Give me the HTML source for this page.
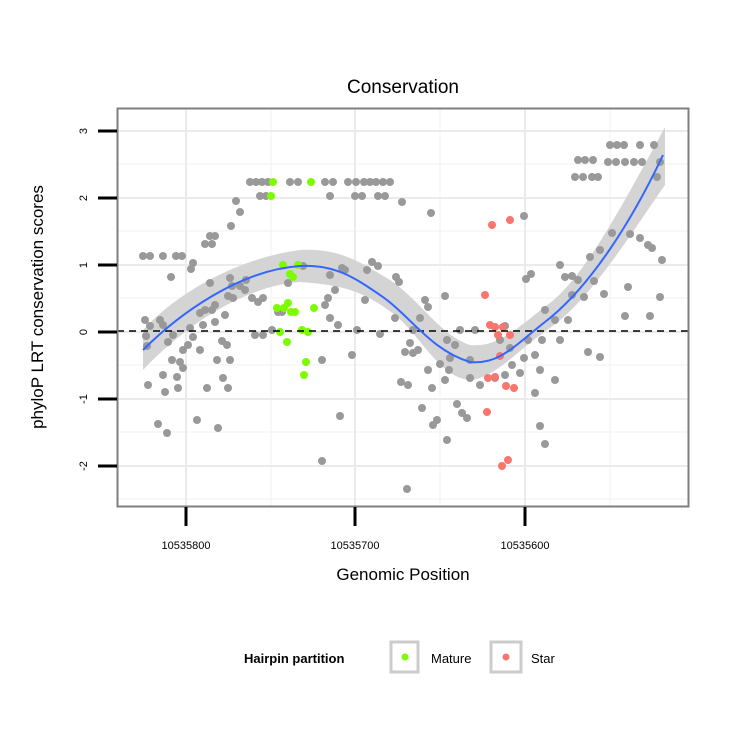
<!DOCTYPE html><html><head><style>body{margin:0;background:#fff}svg text{font-family:"Liberation Sans",sans-serif}</style></head><body>
<svg width="750" height="750" xmlns="http://www.w3.org/2000/svg">
<rect width="750" height="750" fill="#fff"/>
<g stroke="#f3f3f3" stroke-width="1.2">
<line x1="117" x2="689" y1="164" y2="164"/><line x1="117" x2="689" y1="231" y2="231"/><line x1="117" x2="689" y1="298" y2="298"/><line x1="117" x2="689" y1="365" y2="365"/><line x1="117" x2="689" y1="432" y2="432"/><line x1="117" x2="689" y1="499" y2="499"/>
<line x1="271" x2="271" y1="108" y2="506"/><line x1="440" x2="440" y1="108" y2="506"/><line x1="610" x2="610" y1="108" y2="506"/>
</g>
<g stroke="#ebebeb" stroke-width="2">
<line x1="117" x2="689" y1="131" y2="131"/><line x1="117" x2="689" y1="198" y2="198"/><line x1="117" x2="689" y1="265" y2="265"/><line x1="117" x2="689" y1="332" y2="332"/><line x1="117" x2="689" y1="399" y2="399"/><line x1="117" x2="689" y1="466" y2="466"/>
<line x1="186" x2="186" y1="108" y2="506"/><line x1="355" x2="355" y1="108" y2="506"/><line x1="525" x2="525" y1="108" y2="506"/>
</g>
<path d="M143,330 C180,290 240,258 300,250 C340,248 360,262 390,280 C420,300 440,335 470,345 C500,348 520,325 550,303 C585,275 620,210 665,127 L665,185 C630,235 590,300 550,328 C515,352 495,378 470,380 C440,378 420,335 395,315 C365,292 345,285 300,282 C250,285 190,320 143,370 Z" fill="#d4d4d4"/>
<g fill="#999">
<script>
</script>
</g>
<g id="pts" fill="#999"></g>
<g fill="#999">
<!-- top rows -->
<circle cx="250" cy="182" r="4"/><circle cx="256" cy="182" r="4"/><circle cx="262" cy="182" r="4"/><circle cx="268" cy="182" r="4"/><circle cx="290" cy="182" r="4"/><circle cx="298" cy="182" r="4"/><circle cx="325" cy="182" r="4"/><circle cx="333" cy="182" r="4"/><circle cx="348" cy="182" r="4"/><circle cx="356" cy="182" r="4"/><circle cx="364" cy="182" r="4"/><circle cx="370" cy="182" r="4"/><circle cx="376" cy="182" r="4"/><circle cx="383" cy="182" r="4"/><circle cx="390" cy="182" r="4"/>
<circle cx="260" cy="196" r="4"/><circle cx="266" cy="196" r="4"/><circle cx="330" cy="196" r="4"/><circle cx="355" cy="196" r="4"/><circle cx="362" cy="196" r="4"/><circle cx="378" cy="196" r="4"/><circle cx="385" cy="196" r="4"/><circle cx="402" cy="202" r="4"/><circle cx="431" cy="213" r="4"/>
<circle cx="143" cy="256" r="4"/><circle cx="150" cy="256" r="4"/><circle cx="163" cy="256" r="4"/><circle cx="176" cy="256" r="4"/><circle cx="182" cy="256" r="4"/>
<circle cx="236" cy="201" r="4"/><circle cx="240" cy="212" r="4"/><circle cx="231" cy="226" r="4"/><circle cx="210" cy="236" r="4"/><circle cx="215" cy="236" r="4"/><circle cx="205" cy="244" r="4"/><circle cx="212" cy="244" r="4"/><circle cx="193" cy="263" r="4"/><circle cx="191" cy="269" r="4"/><circle cx="171" cy="277" r="4"/>
<circle cx="610" cy="145" r="4"/><circle cx="617" cy="145" r="4"/><circle cx="624" cy="145" r="4"/><circle cx="640" cy="145" r="4"/><circle cx="654" cy="145" r="4"/><circle cx="578" cy="160" r="4"/><circle cx="585" cy="160" r="4"/><circle cx="593" cy="160" r="4"/><circle cx="608" cy="162" r="4"/><circle cx="616" cy="162" r="4"/><circle cx="625" cy="162" r="4"/><circle cx="634" cy="162" r="4"/><circle cx="642" cy="162" r="4"/><circle cx="660" cy="162" r="4"/><circle cx="575" cy="177" r="4"/><circle cx="583" cy="177" r="4"/><circle cx="592" cy="177" r="4"/><circle cx="598" cy="177" r="4"/><circle cx="657" cy="177" r="4"/>
<circle cx="524" cy="216" r="4"/><circle cx="612" cy="233" r="4"/><circle cx="630" cy="234" r="4"/><circle cx="640" cy="238" r="4"/><circle cx="648" cy="245" r="4"/><circle cx="652" cy="248" r="4"/><circle cx="662" cy="260" r="4"/><circle cx="600" cy="250" r="4"/><circle cx="590" cy="257" r="4"/><circle cx="565" cy="277" r="4"/><circle cx="572" cy="276" r="4"/><circle cx="578" cy="280" r="4"/><circle cx="560" cy="265" r="4"/><circle cx="531" cy="274" r="4"/><circle cx="526" cy="279" r="4"/><circle cx="584" cy="297" r="4"/><circle cx="594" cy="281" r="4"/><circle cx="604" cy="294" r="4"/><circle cx="628" cy="287" r="4"/><circle cx="660" cy="297" r="4"/><circle cx="625" cy="316" r="4"/><circle cx="650" cy="316" r="4"/><circle cx="568" cy="320" r="4"/><circle cx="555" cy="320" r="4"/><circle cx="545" cy="310" r="4"/><circle cx="542" cy="340" r="4"/><circle cx="588" cy="352" r="4"/><circle cx="600" cy="357" r="4"/><circle cx="535" cy="355" r="4"/><circle cx="540" cy="370" r="4"/><circle cx="524" cy="358" r="4"/><circle cx="520" cy="373" r="4"/><circle cx="535" cy="393" r="4"/><circle cx="545" cy="444" r="4"/><circle cx="540" cy="426" r="4"/><circle cx="555" cy="380" r="4"/><circle cx="510" cy="348" r="4"/>
<circle cx="475" cy="330" r="4"/><circle cx="470" cy="360" r="4"/><circle cx="480" cy="385" r="4"/><circle cx="470" cy="378" r="4"/><circle cx="460" cy="330" r="4"/><circle cx="455" cy="345" r="4"/><circle cx="450" cy="358" r="4"/><circle cx="445" cy="296" r="4"/><circle cx="447" cy="340" r="4"/><circle cx="440" cy="364" r="4"/><circle cx="445" cy="380" r="4"/><circle cx="447" cy="440" r="4"/><circle cx="457" cy="404" r="4"/><circle cx="462" cy="413" r="4"/><circle cx="467" cy="418" r="4"/><circle cx="428" cy="370" r="4"/><circle cx="432" cy="388" r="4"/><circle cx="437" cy="420" r="4"/><circle cx="449" cy="370" r="4"/><circle cx="425" cy="300" r="4"/><circle cx="428" cy="307" r="4"/><circle cx="420" cy="318" r="4"/><circle cx="413" cy="330" r="4"/><circle cx="410" cy="343" r="4"/><circle cx="405" cy="352" r="4"/><circle cx="408" cy="385" r="4"/><circle cx="401" cy="382" r="4"/><circle cx="418" cy="350" r="4"/><circle cx="413" cy="353" r="4"/><circle cx="422" cy="408" r="4"/><circle cx="433" cy="425" r="4"/><circle cx="407" cy="489" r="4"/><circle cx="396" cy="277" r="4"/><circle cx="399" cy="282" r="4"/><circle cx="395" cy="318" r="4"/><circle cx="380" cy="334" r="4"/>
<circle cx="345" cy="270" r="4"/><circle cx="342" cy="268" r="4"/><circle cx="372" cy="262" r="4"/><circle cx="367" cy="270" r="4"/><circle cx="378" cy="266" r="4"/><circle cx="330" cy="275" r="4"/><circle cx="335" cy="290" r="4"/><circle cx="328" cy="298" r="4"/><circle cx="325" cy="305" r="4"/><circle cx="330" cy="318" r="4"/><circle cx="338" cy="325" r="4"/><circle cx="357" cy="330" r="4"/><circle cx="352" cy="355" r="4"/><circle cx="322" cy="360" r="4"/><circle cx="340" cy="416" r="4"/><circle cx="322" cy="461" r="4"/><circle cx="365" cy="300" r="4"/>
<circle cx="303" cy="266" r="4"/><circle cx="288" cy="283" r="4"/><circle cx="282" cy="312" r="4"/><circle cx="278" cy="312" r="4"/><circle cx="272" cy="330" r="4"/><circle cx="263" cy="335" r="4"/><circle cx="258" cy="302" r="4"/><circle cx="246" cy="280" r="4"/><circle cx="240" cy="286" r="4"/><circle cx="245" cy="290" r="4"/><circle cx="252" cy="298" r="4"/><circle cx="255" cy="335" r="4"/><circle cx="263" cy="298" r="4"/><circle cx="230" cy="278" r="4"/><circle cx="232" cy="286" r="4"/><circle cx="233" cy="298" r="4"/><circle cx="228" cy="296" r="4"/><circle cx="210" cy="283" r="4"/><circle cx="215" cy="305" r="4"/><circle cx="205" cy="310" r="4"/><circle cx="212" cy="310" r="4"/><circle cx="200" cy="313" r="4"/><circle cx="203" cy="325" r="4"/><circle cx="225" cy="315" r="4"/><circle cx="215" cy="322" r="4"/><circle cx="190" cy="328" r="4"/><circle cx="193" cy="337" r="4"/><circle cx="188" cy="345" r="4"/><circle cx="200" cy="350" r="4"/><circle cx="222" cy="341" r="4"/><circle cx="227" cy="345" r="4"/><circle cx="230" cy="360" r="4"/><circle cx="217" cy="360" r="4"/><circle cx="223" cy="378" r="4"/><circle cx="228" cy="388" r="4"/><circle cx="207" cy="388" r="4"/><circle cx="218" cy="428" r="4"/><circle cx="197" cy="420" r="4"/><circle cx="183" cy="350" r="4"/><circle cx="180" cy="362" r="4"/><circle cx="183" cy="368" r="4"/><circle cx="177" cy="377" r="4"/><circle cx="173" cy="335" r="4"/><circle cx="168" cy="342" r="4"/><circle cx="163" cy="325" r="4"/><circle cx="160" cy="320" r="4"/><circle cx="145" cy="320" r="4"/><circle cx="150" cy="326" r="4"/><circle cx="146" cy="336" r="4"/><circle cx="147" cy="346" r="4"/><circle cx="148" cy="385" r="4"/><circle cx="158" cy="424" r="4"/><circle cx="167" cy="433" r="4"/><circle cx="165" cy="392" r="4"/><circle cx="178" cy="388" r="4"/><circle cx="172" cy="360" r="4"/><circle cx="163" cy="375" r="4"/>
<circle cx="500" cy="340" r="4"/><circle cx="505" cy="326" r="4"/><circle cx="505" cy="375" r="4"/><circle cx="495" cy="378" r="4"/><circle cx="512" cy="365" r="4"/><circle cx="528" cy="340" r="4"/><circle cx="560" cy="340" r="4"/><circle cx="572" cy="295" r="4"/>
</g>
<g fill="#7CFC00">
<circle cx="273" cy="182" r="4"/><circle cx="311" cy="182" r="4"/><circle cx="271" cy="196" r="4"/><circle cx="283" cy="265" r="4"/><circle cx="298" cy="265" r="4"/><circle cx="290" cy="274" r="4"/><circle cx="293" cy="277" r="4"/><circle cx="277" cy="308" r="4"/><circle cx="284" cy="308" r="4"/><circle cx="288" cy="303" r="4"/><circle cx="291" cy="312" r="4"/><circle cx="295" cy="312" r="4"/><circle cx="314" cy="308" r="4"/><circle cx="280" cy="332" r="4"/><circle cx="287" cy="342" r="4"/><circle cx="302" cy="330" r="4"/><circle cx="308" cy="332" r="4"/><circle cx="306" cy="362" r="4"/><circle cx="304" cy="375" r="4"/>
</g>
<g fill="#F8766D">
<circle cx="492" cy="225" r="4"/><circle cx="510" cy="220" r="4"/><circle cx="485" cy="295" r="4"/><circle cx="490" cy="325" r="4"/><circle cx="495" cy="327" r="4"/><circle cx="503" cy="327" r="4"/><circle cx="498" cy="335" r="4"/><circle cx="510" cy="335" r="4"/><circle cx="500" cy="356" r="4"/><circle cx="488" cy="378" r="4"/><circle cx="495" cy="377" r="4"/><circle cx="506" cy="386" r="4"/><circle cx="514" cy="388" r="4"/><circle cx="487" cy="412" r="4"/><circle cx="502" cy="466" r="4"/><circle cx="508" cy="460" r="4"/>
</g>
<line x1="117" x2="689" y1="331" y2="331" stroke="#000" stroke-width="1.5" stroke-dasharray="7,5"/>
<path d="M143,350 C180,313 240,270 300,266 C335,264 355,278 380,295 C410,315 430,350 470,362 C500,365 515,345 550,318 C590,285 630,225 663,155" fill="none" stroke="#3366FF" stroke-width="2"/>
<rect x="117.5" y="108.5" width="571" height="398" fill="none" stroke="#7f7f7f" stroke-width="2"/>
<g stroke="#000" stroke-width="3">
<line x1="98" x2="117" y1="131" y2="131"/><line x1="98" x2="117" y1="198" y2="198"/><line x1="98" x2="117" y1="265" y2="265"/><line x1="98" x2="117" y1="332" y2="332"/><line x1="98" x2="117" y1="399" y2="399"/><line x1="98" x2="117" y1="466" y2="466"/>
<line x1="186" x2="186" y1="507" y2="526"/><line x1="355" x2="355" y1="507" y2="526"/><line x1="525" x2="525" y1="507" y2="526"/>
</g>
<g font-size="11" text-anchor="middle">
<text transform="translate(87,131) rotate(-90)">3</text><text transform="translate(87,198) rotate(-90)">2</text><text transform="translate(87,265) rotate(-90)">1</text><text transform="translate(87,332) rotate(-90)">0</text><text transform="translate(87,399) rotate(-90)">-1</text><text transform="translate(87,466) rotate(-90)">-2</text>
<text x="186" y="549">10535800</text><text x="355" y="549">10535700</text><text x="525" y="549">10535600</text>
</g>
<text x="403" y="93" font-size="19" text-anchor="middle">Conservation</text>
<text x="403" y="580" font-size="17" text-anchor="middle">Genomic Position</text>
<text transform="translate(43,307) rotate(-90)" font-size="17" text-anchor="middle">phyloP LRT conservation scores</text>
<text x="244" y="663" font-size="13" font-weight="bold">Hairpin partition</text>
<rect x="391" y="642" width="27" height="30" fill="#fff" stroke="#ccc" stroke-width="3"/>
<circle cx="405" cy="657" r="3.5" fill="#7CFC00"/>
<text x="431" y="663" font-size="13">Mature</text>
<rect x="491" y="642" width="30" height="30" fill="#fff" stroke="#ccc" stroke-width="3"/>
<circle cx="506" cy="657" r="3.5" fill="#F8766D"/>
<text x="531" y="663" font-size="13">Star</text>
</svg>
</body></html>
